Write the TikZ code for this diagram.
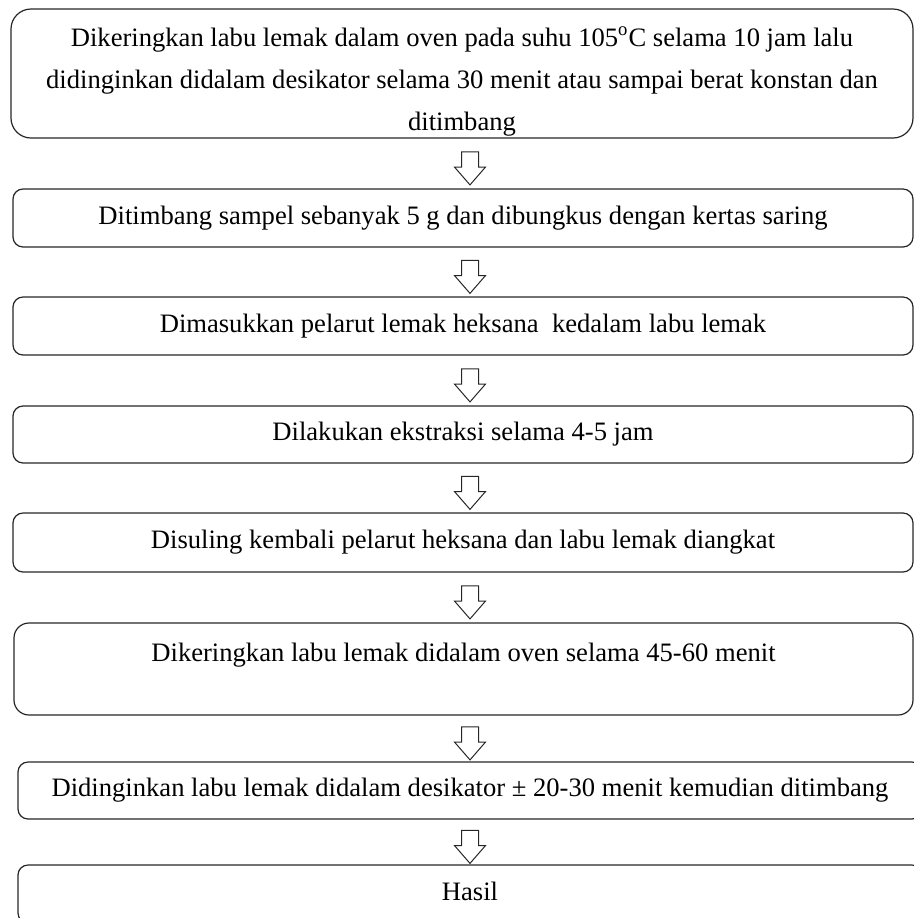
\documentclass[tikz,border=0pt]{standalone}
\usepackage{fontspec}
\setmainfont{Liberation Serif}
\usetikzlibrary{shapes.arrows}
\newdimen\px
\px=0.5pt
\begin{document}
\begin{tikzpicture}[x=0.5pt,y=-0.5pt,every node/.style={font=\fontsize{13.3}{21}\selectfont},
  langkah/.style={draw=black!85, line width=0.6pt, rounded corners=10\px, align=center, inner sep=0pt, text height=18\px, text depth=6\px},
  panah/.style={draw=black!85, line width=0.5pt, single arrow, rotate=-90, text height=8\px, text depth=8\px, inner sep=0pt, minimum height=33\px, single arrow head extend=7\px, single arrow tip angle=82}]
\useasboundingbox (0,0) rectangle (914,918);
\coordinate (ax) at (470,0);
\node[langkah, minimum width=902\px, minimum height=129\px, rounded corners=20\px, text height=119\px, text depth=6\px] (oven) at (462,73.5) {Dikeringkan labu lemak dalam oven pada suhu 105\textsuperscript{o}C selama 10 jam lalu\\didinginkan didalam desikator selama 30 menit atau sampai berat konstan dan\\ditimbang};
\node[langkah, minimum width=900\px, minimum height=58\px] (timbang) at (463,218) {Ditimbang sampel sebanyak 5 g dan dibungkus dengan kertas saring};
\node[langkah, minimum width=900\px, minimum height=58\px] (pelarut) at (463,326) {Dimasukkan pelarut lemak heksana\ \ kedalam labu lemak};
\node[langkah, minimum width=900\px, minimum height=57\px] (ekstraksi) at (463,434.5) {Dilakukan ekstraksi selama 4-5 jam};
\node[langkah, minimum width=900\px, minimum height=59\px] (suling) at (463,542.5) {Disuling kembali pelarut heksana dan labu lemak diangkat};
\node[langkah, minimum width=899\px, minimum height=92\px, rounded corners=15\px, text depth=34\px] (kering) at (463.5,669) {Dikeringkan labu lemak didalam oven selama 45-60 menit};
\node[langkah, minimum width=904\px, minimum height=57\px] (dingin) at (470,790.5) {Didinginkan labu lemak didalam desikator \textpm{} 20-30 menit kemudian ditimbang};
\node[langkah, minimum width=904\px, minimum height=58\px] (hasil) at (470,894) {Hasil};

\path (oven.south -| ax) -- (timbang.north -| ax) node[panah, midway] (p1) {};
\path (timbang.south -| ax) -- (pelarut.north -| ax) node[panah, midway] (p2) {};
\path (pelarut.south -| ax) -- (ekstraksi.north -| ax) node[panah, midway] (p3) {};
\path (ekstraksi.south -| ax) -- (suling.north -| ax) node[panah, midway] (p4) {};
\path (suling.south -| ax) -- (kering.north -| ax) node[panah, midway] (p5) {};
\path (kering.south -| ax) -- (dingin.north -| ax) node[panah, midway] (p6) {};
\path (dingin.south -| ax) -- (hasil.north -| ax) node[panah, midway] (p7) {};
\end{tikzpicture}
\end{document}
